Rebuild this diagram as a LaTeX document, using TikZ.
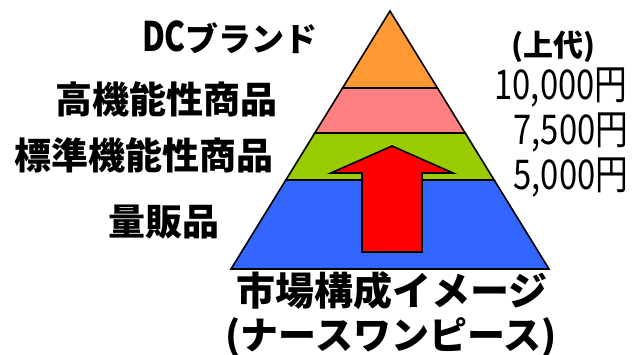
\documentclass[tikz,border=0pt]{standalone}
\usepackage{fontspec}
\usepackage{graphicx}
\newfontfamily\jp{Noto Sans CJK JP}
\usetikzlibrary{calc}
\definecolor{lorange}{HTML}{FF9933}
\definecolor{lpink}{HTML}{FF8080}
\definecolor{lgreen}{HTML}{99CC00}
\definecolor{lblue}{HTML}{3366FF}
\definecolor{lred}{HTML}{FF0000}
\newcommand\narr[1]{\scalebox{0.8}[1]{#1}}
\tikzset{
  layer/.style={draw=black,line width=1.6pt,line join=miter},
  lbl/.style={inner sep=0pt,font=\jp\bfseries\fontsize{37}{38}\selectfont},
  price/.style={inner sep=0pt,font=\jp\fontsize{41}{41}\selectfont},
}
\begin{document}
\begin{tikzpicture}[x=1pt,y=-1pt]
\useasboundingbox (0,0) rectangle (637,355);
\coordinate (apex) at (390,11);
\coordinate (bl) at (231,269);
\coordinate (br) at (549,269);
\coordinate (l1) at ($(apex)!0.2984!(bl)$);
\coordinate (r1) at ($(apex)!0.2984!(br)$);
\coordinate (l2) at ($(apex)!0.4729!(bl)$);
\coordinate (r2) at ($(apex)!0.4729!(br)$);
\coordinate (l3) at ($(apex)!0.6550!(bl)$);
\coordinate (r3) at ($(apex)!0.6550!(br)$);
\draw[layer,fill=lblue] (l3) -- (r3) -- (br) -- (bl) -- cycle;
\draw[layer,fill=lgreen] (l2) -- (r2) -- (r3) -- (l3) -- cycle;
\draw[layer,fill=lpink] (l1) -- (r1) -- (r2) -- (l2) -- cycle;
\draw[layer,fill=lorange] (apex) -- (r1) -- (l1) -- cycle;
% arrow
\draw[layer,fill=lred] (362,252) -- (362,173) -- (331,173) -- (392,146) -- (453,173) -- (422,173) -- (422,252) -- cycle;
% left labels
\node[lbl] (dc) at (230,37) {\scalebox{0.85}[1.1]{DC}{\fontsize{33}{33}\selectfont ブランド}};
\node[lbl] (high) at (166,99) {高機能性商品};
\node[lbl] (std) at (144,155) {標準機能性商品};
\node[lbl] (mass) at (164,222) {量販品};
% prices
\node[price,font=\jp\bfseries\fontsize{30}{30}\selectfont] (jd) at (553,47) {(上代)};
\node[price] (p1) at (561,88) {\narr{10,000}\scalebox{0.8}[1]{円}};
\node[price] (p2) at (571,133) {\narr{7,500}\scalebox{0.8}[1]{円}};
\node[price] (p3) at (571,178) {\narr{5,000}\scalebox{0.8}[1]{円}};
% bottom
\node[lbl,font=\jp\bfseries\fontsize{39}{39}\selectfont] (t1) at (392,291) {市場構成イメージ};
\node[lbl,font=\jp\bfseries\fontsize{38}{38}\selectfont] (t2) at (391,337) {(ナースワンピース)};
\end{tikzpicture}
\end{document}
